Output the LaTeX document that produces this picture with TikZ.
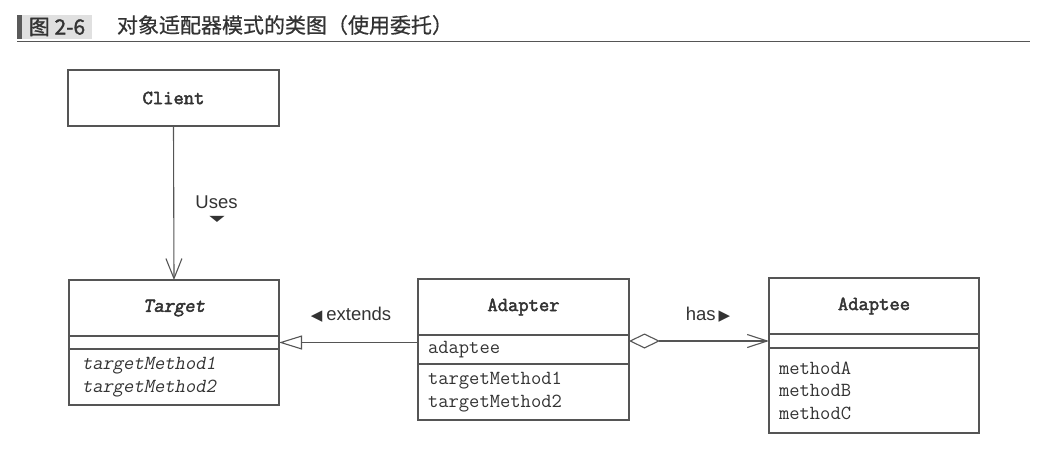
\documentclass[tikz,border=0pt]{standalone}
\usepackage{fontspec}
\usepackage{tikz}
\usepackage{xcolor}
\usetikzlibrary{arrows.meta}

\setmonofont{Latin Modern Mono}[AutoFakeBold=2.5]
\newfontfamily\umlmonosl{Latin Modern Mono}[FakeSlant=0.2]
\newfontfamily\umlmonobsl{Latin Modern Mono}[FakeSlant=0.2, FakeBold=2.5]
\newfontfamily\umlcjk{Noto Sans CJK SC}[FakeBold=0.6]
\newfontfamily\umlcjktag{Noto Sans CJK SC}[FakeBold=1.4]
\newfontfamily\umlsans{Liberation Sans}
\newfontfamily\umlsym{DejaVu Sans}

\definecolor{inkgray}{HTML}{333333}
\definecolor{linegray}{HTML}{555555}
\definecolor{tabgray}{HTML}{E0E0E0}
\definecolor{bargray}{HTML}{5A5A5A}

\begin{document}
\begin{tikzpicture}[
    x=1pt, y=-1pt,
    line width=1.1pt,
    every node/.style={text=inkgray, inner sep=0pt, outer sep=0pt},
    classpart/.style={draw=linegray, rectangle, minimum width=211pt},
    classname/.style={classpart, minimum height=56pt, font=\fontsize{20}{24}\ttfamily\bfseries},
    members/.style={classpart, font=\fontsize{20}{22.5}\ttfamily, inner xsep=10pt,
                    text width=191pt, align=left},
    rolelabel/.style={font=\fontsize{18.5}{22}\umlsans},
    usesarrow/.style={draw=linegray, -{Straight Barb[length=20pt, width=16pt]}},
    extendsarrow/.style={draw=linegray, -{Triangle[open, length=23pt, width=14pt]}},
    hasarrow/.style={draw=linegray, {Diamond[open, length=31pt, width=15pt]}-{Straight Barb[length=20pt, width=13pt]}},
]
\useasboundingbox (0,0) rectangle (1061,467);

% Title
\node[fill=bargray, minimum width=5pt, minimum height=24pt] (figbar) at (19.5,27) {};
\node[fill=tabgray, minimum width=70pt, minimum height=24pt, font=\fontsize{21}{24}\umlcjktag]
      (figtag) at (57,27) {图 2-6};
\node[anchor=west, font=\fontsize{21}{24}\umlcjk] (figtitle) at (117,25)
      {对象适配器模式的类图（使用委托）};
\draw[linegray, line width=1pt] (figbar.south west |- 0,41) -- (1030,41);

% Client
\node[classname] (client) at (173.5,98) {Client};

% Target
\node[classname, minimum width=210pt, font=\fontsize{20}{24}\umlmonobsl]
      (targetname) at (174,308) {Target};
\node[classpart, minimum width=210pt, minimum height=13pt, anchor=north]
      (targetattr) at (targetname.south) {};
\node[members, minimum width=210pt, minimum height=56pt, anchor=north, inner xsep=13pt,
      text width=184pt, font=\fontsize{20}{22.5}\umlmonosl] (targetops) at (targetattr.south)
      {targetMethod1\\targetMethod2};

% Adapter
\node[classname] (adaptername) at (523.5,307) {Adapter};
\node[members, minimum height=29pt, anchor=north] (adapterattr) at (adaptername.south) {adaptee};
\node[members, minimum height=56pt, anchor=north] (adapterops) at (adapterattr.south)
      {targetMethod1\\targetMethod2};

% Adaptee
\node[classname, minimum width=210pt] (adapteename) at (874,306) {Adaptee};
\node[classpart, minimum width=210pt, minimum height=14pt, anchor=north]
      (adapteeattr) at (adapteename.south) {};
\node[members, minimum width=210pt, minimum height=85pt, anchor=north, text width=190pt]
      (adapteeops) at (adapteeattr.south) {methodA\\methodB\\methodC};

% Uses
\draw[usesarrow] (client.south) -- (targetname.north);
\node[rolelabel] (usestext) at (216.5,202) {Uses};
\node[font=\fontsize{20}{20}\umlsym] (usesmark) at (217,219) {\scalebox{1}[0.4]{▼}};

% Extends
\draw[extendsarrow] (adapterattr.west |- targetattr.east) -- (targetattr.east);
\node[rolelabel] (extendstext) at (351,315)
      {{\umlsym\fontsize{15}{17}\selectfont ◀}\hspace{4pt}extends};

% Has
\draw[hasarrow] (adapterattr.east |- adapteeattr.west) -- (adapteeattr.west);
\node[rolelabel] (hastext) at (708,315)
      {has\hspace{3pt}{\umlsym\fontsize{15}{17}\selectfont ▶}};

\end{tikzpicture}
\end{document}
